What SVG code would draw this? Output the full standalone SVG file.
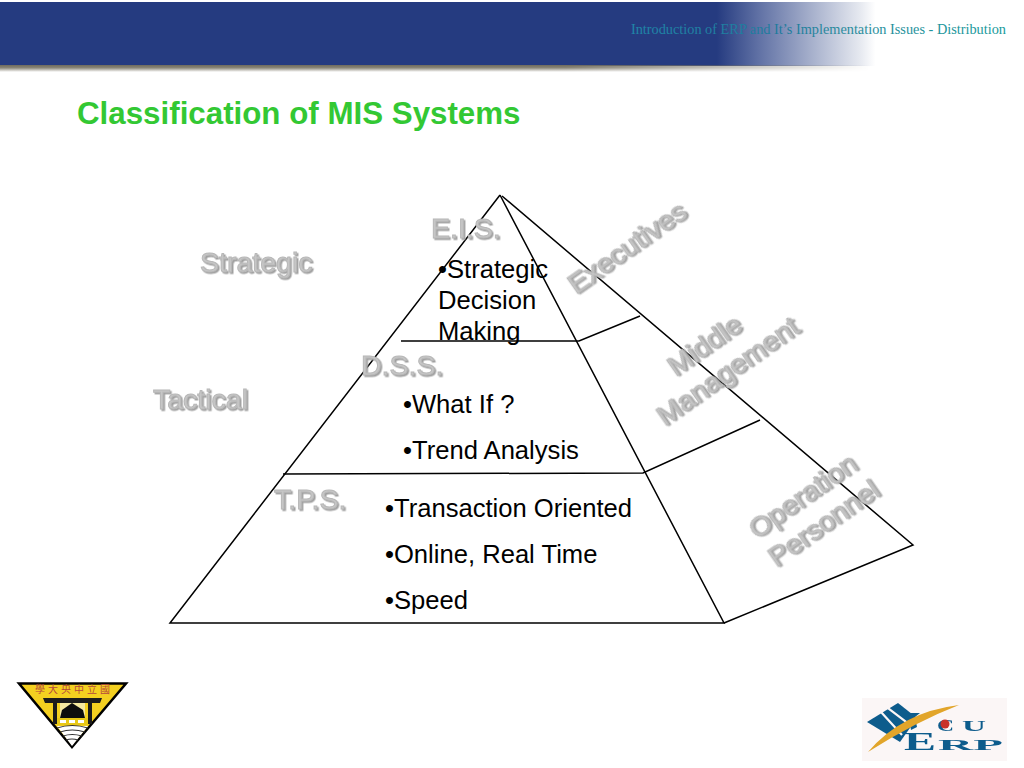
<svg xmlns="http://www.w3.org/2000/svg" width="1024" height="768" viewBox="0 0 1024 768">
<style>
text{font-family:"Liberation Sans",Arial,sans-serif}
.body{font-size:25.6px;fill:#000}
.lab{font-size:28.5px;fill:#c6c6c6;stroke:#b8b8b8;stroke-width:1px;filter:url(#sh)}
.ln{stroke:#000;stroke-width:1.5;fill:none}
.blue{fill:#0f5c8c}
.erp{font-family:"Liberation Serif",serif;font-weight:bold;fill:#0f5c8c}
</style>
<defs>
<linearGradient id="hdr" x1="0" x2="1" y1="0" y2="0">
<stop offset="0" stop-color="#253b80"/><stop offset=".7" stop-color="#253b80"/><stop offset=".74" stop-color="#5f70a4"/><stop offset=".79" stop-color="#a3adca"/><stop offset=".84" stop-color="#e6e9f0"/><stop offset=".855" stop-color="#fff"/>
</linearGradient>
<linearGradient id="fade" x1="0" x2="1" y1="0" y2="0">
<stop offset="0" stop-color="#fff"/><stop offset=".65" stop-color="#fff"/><stop offset="1" stop-color="#000"/>
</linearGradient>
<mask id="hm" maskUnits="userSpaceOnUse" x="0" y="60" width="880" height="20"><rect x="0" y="60" width="870" height="20" fill="url(#fade)"/></mask>
<linearGradient id="hv" x1="0" x2="0" y1="0" y2="1">
<stop offset="0" stop-color="#6e6a5c"/><stop offset=".4" stop-color="#8a8678"/><stop offset="1" stop-color="#fff"/>
</linearGradient>
<linearGradient id="txt" gradientUnits="userSpaceOnUse" x1="632" x2="1006" y1="0" y2="0">
<stop offset="0" stop-color="#1f86a8"/><stop offset=".4" stop-color="#1f7a9c"/><stop offset=".55" stop-color="#2a8a9c"/><stop offset="1" stop-color="#1c9a9a"/>
</linearGradient>
<filter id="sh" x="-10%" y="-20%" width="125%" height="150%">
<feDropShadow dx="1.5" dy="1.5" stdDeviation=".5" flood-color="#a0a0a0"/>
</filter>
<filter id="soft"><feGaussianBlur stdDeviation=".45"/></filter>
</defs>

<g id="header">
<rect x="0" y="2" width="1024" height="64" fill="url(#hdr)"/>
<rect x="0" y="65" width="870" height="7" fill="url(#hv)" mask="url(#hm)"/>
<text x="1006" y="34" text-anchor="end" font-size="14.3" style="font-family:'Liberation Serif',serif" fill="url(#txt)">Introduction of ERP and It’s Implementation Issues - Distribution</text>
</g>

<text id="title" x="77" y="124" font-size="31.3" font-weight="bold" fill="#33c833">Classification of MIS Systems</text>

<g id="connectors">
<path class="ln" d="M500 195L170 623H724L500 195"/>
<path class="ln" d="M502 196L913 545L724 623"/>
<path class="ln" d="M401 341H579L640 316"/>
<path class="ln" d="M283 474L643 473L760 420"/>
</g>

<g id="node-eis"><text class="lab" x="431" y="238">E.I.S.</text>
<text class="body" x="438" y="277.5">•Strategic</text><text class="body" x="438" y="308.5">Decision</text><text class="body" x="438" y="339.5">Making</text></g>
<g id="node-dss"><text class="lab" x="361" y="375">D.S.S.</text>
<text class="body" x="403" y="412.5">•What If ?</text><text class="body" x="403" y="458.5">•Trend Analysis</text></g>
<g id="node-tps"><text class="lab" x="274" y="509">T.P.S.</text>
<text class="body" x="385" y="516.5">•Transaction Oriented</text><text class="body" x="385" y="562.5">•Online, Real Time</text><text class="body" x="385" y="608.5">•Speed</text></g>
<g id="node-strategic"><text class="lab" x="200" y="272">Strategic</text></g>
<g id="node-tactical"><text class="lab" x="153" y="409">Tactical</text></g>
<g id="node-executives"><text class="lab" transform="translate(576 295) rotate(-35)">Executives</text></g>
<g id="node-middle"><text class="lab" text-anchor="middle" transform="translate(710 353) rotate(-35)">Middle</text><text class="lab" text-anchor="middle" transform="translate(733 379) rotate(-35)">Management</text></g>
<g id="node-operation"><text class="lab" text-anchor="middle" transform="translate(808 504) rotate(-35)">Operation</text><text class="lab" text-anchor="middle" transform="translate(829 531) rotate(-35)">Personnel</text></g>

<g id="logo-ncu-univ">
<path d="M19 683.5H126L72 747Z" fill="#f4d020" stroke="#000" stroke-width="2.5"/>
<text x="74" y="693" text-anchor="middle" font-size="10" fill="#b5483c" letter-spacing="3" style="font-family:'Noto Sans CJK TC',sans-serif">學大央中立國</text>
<g filter="url(#soft)">
<path d="M43 698H102L100 703H45Z" fill="#1a1a1a"/>
<path d="M53 703H57V724H53Z M88 703H92V724H88Z" fill="#1a1a1a"/>
<path d="M60 703H85V719H60Z" fill="#f6e9a0"/>
<path d="M72 703L62 710L60 718H85L83 710Z" fill="#111"/>
<path d="M57 718H88V725H57Z" fill="#e8c818"/>
<path d="M60 720H66V723H60Z M69 720H75V723H69Z M78 720H84V723H78Z" fill="#fff"/>
<path d="M57 726L88 726L72 746Z" fill="#fff"/>
<path d="M57 728Q72 723 88 728 M60 732Q72 728 85 732 M63 736Q72 733 82 736 M66 740Q72 738 78 740" stroke="#333" stroke-width="1.2" fill="none"/>
</g>
</g>

<g id="logo-ncu-erp">
<rect x="862" y="698" width="145" height="63" fill="#fbf6f6"/>
<g filter="url(#soft)">
<path class="blue" d="M867 722L898 703L917 718L900 742Z"/>
<path d="M881 712L902 735M888 708L909 724" stroke="#fbf6f6" stroke-width="2.2" fill="none"/>
<path class="blue" d="M908 713H920L915 717L917 727L911 730Z"/>
<text class="erp" x="937" y="731" font-size="17" textLength="17" lengthAdjust="spacingAndGlyphs">C</text>
<circle cx="945" cy="724" r="4.5" fill="#c8322c"/>
<text class="erp" x="962" y="731" font-size="15" textLength="24" lengthAdjust="spacingAndGlyphs">U</text>
<text class="erp" x="904" y="750" font-size="26" textLength="32" lengthAdjust="spacingAndGlyphs">E</text>
<text class="erp" x="938" y="750" font-size="14" textLength="65" lengthAdjust="spacingAndGlyphs">RP</text>
<path d="M868 752Q902 712 959 705Q915 722 868 752Z" fill="#e2a52a"/>
</g>
</g>
</svg>
